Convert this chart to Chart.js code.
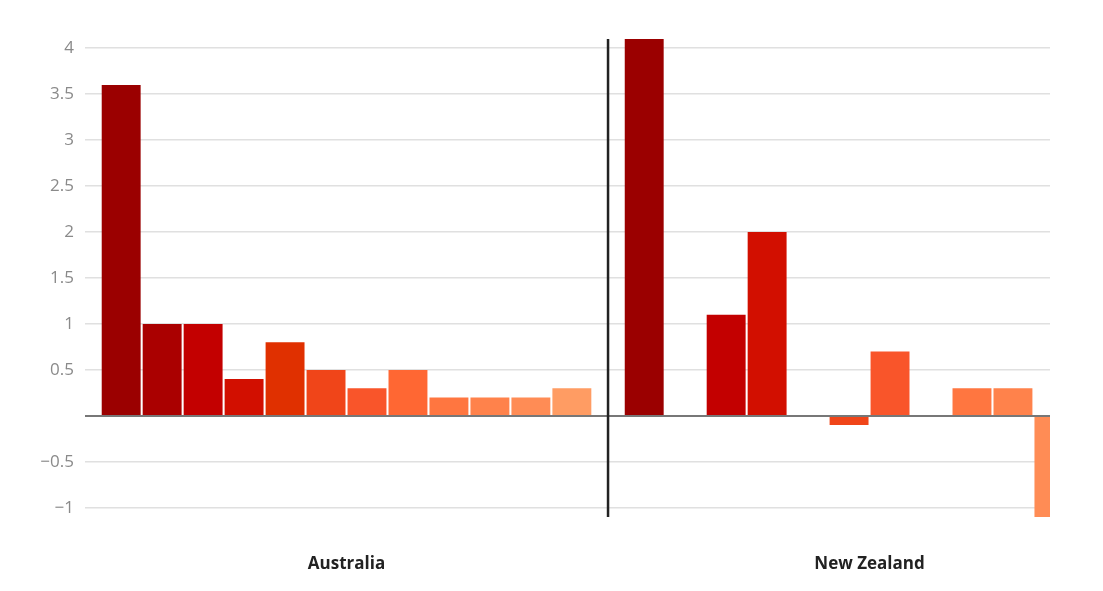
<!DOCTYPE html>
<html>
<head>
<meta charset="utf-8">
<script src="https://cdn.jsdelivr.net/npm/chart.js@4/dist/chart.umd.min.js"></script>
<style>
  html, body { margin: 0; padding: 0; background: #fff; }
  #wrap { width: 1103px; height: 591px; }
</style>
</head>
<body>
<div id="wrap"><canvas id="chart"></canvas></div>
<script>
// Data
var categories = ['Australia', 'New Zealand'];
var australia = [3.6, 1, 1, 0.4, 0.8, 0.5, 0.3, 0.5, 0.2, 0.2, 0.2, 0.3];
var newZealand = [4.1, null, 1.1, 2, null, -0.1, 0.7, null, 0.3, 0.3, -1.1, null];
var barColors = ['#9b0000', '#aa0000', '#c30000', '#d20f00', '#e03000', '#f04519',
                 '#f9552a', '#ff6733', '#ff7640', '#ff824b', '#ff8c55', '#ff9c63'];
var yTickValues = [-1, -0.5, 0, 0.5, 1, 1.5, 2, 2.5, 3, 3.5, 4];
var yTickLabels = ['\u22121', '\u22120.5', '', '0.5', '1', '1.5', '2', '2.5', '3', '3.5', '4'];
var dividerAt = 0.5; // between the two groups

/* Build datasets, one per bar colour */
var datasets = australia.map(function(v, i) {
    return {
        label: 'Series ' + (i + 1),
        data: [{x: 0, y: australia[i]}, {x: 1, y: newZealand[i]}],
        backgroundColor: barColors[i],
        borderWidth: 0
    };
});

/* Vertical divider between the groups */
var dividerPlugin = {
    id: 'divider',
    afterDatasetsDraw: function(chart) {
        var c = chart.ctx, area = chart.chartArea;
        var px = chart.scales.x.getPixelForValue(dividerAt);
        c.save();
        c.strokeStyle = '#222';
        c.lineWidth = 2.5;
        c.beginPath();
        c.moveTo(px, area.top);
        c.lineTo(px, area.bottom);
        c.stroke();
        c.restore();
    }
};

var ctx = document.getElementById('chart').getContext('2d');
var chart = new Chart(ctx, {
    type: 'bar',
    data: { datasets: datasets },
    plugins: [dividerPlugin],
    options: {
        responsive: true,
        maintainAspectRatio: false,
        animation: false,
        layout: { padding: { top: 39, right: 53, bottom: 0, left: 0 } },
        plugins: { legend: { display: false }, tooltip: { enabled: false } },
        datasets: { bar: { categoryPercentage: 0.94, barPercentage: 0.95 } },
        scales: {
            x: {
                type: 'linear',
                offset: false,
                min: -0.5,
                max: 1.345,
                afterBuildTicks: function(s) { s.ticks = categories.map(function(c, i) { return {value: i}; }); },
                afterFit: function(s) { s.height = 74; },
                grid: { display: false, offset: false },
                border: { display: false },
                ticks: {
                    padding: 29,
                    maxRotation: 0,
                    color: '#222',
                    font: { family: 'Open Sans', size: 17, weight: 'bold' },
                    callback: function(v) { return categories[v]; }
                }
            },
            y: {
                min: -1.1,
                max: 4.1,
                afterBuildTicks: function(s) { s.ticks = yTickValues.map(function(v) { return {value: v}; }); },
                afterFit: function(s) { s.width = 85; },
                border: { display: false },
                grid: {
                    drawTicks: false,
                    color: function(c) { return c.tick && c.tick.value === 0 ? '#777' : '#e0e0e0'; },
                    lineWidth: function(c) { return c.tick && c.tick.value === 0 ? 2 : 1.5; }
                },
                ticks: {
                    padding: 11,
                    color: '#8a8a8a',
                    font: { family: 'Open Sans', size: 17 },
                    callback: function(v) {
                        var i = yTickValues.indexOf(v);
                        return i >= 0 ? yTickLabels[i] : '';
                    }
                }
            }
        }
    }
});
</script>
</body>
</html>
